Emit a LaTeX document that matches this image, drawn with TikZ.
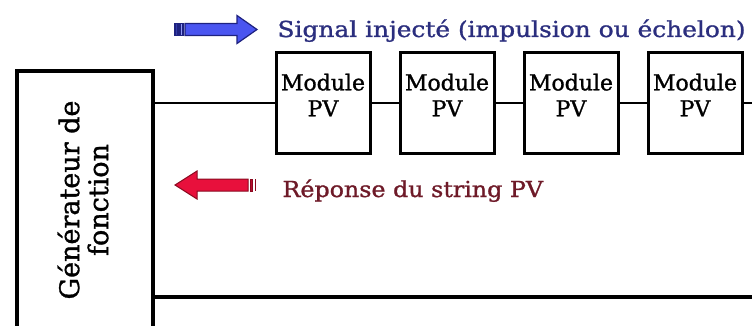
\documentclass[tikz,border=0pt]{standalone}
\usepackage{fontspec}
\setmainfont{DejaVu Serif}[FakeBold=1.2]
\newfontfamily\widefont{DejaVu Serif}[FakeStretch=1.08, FakeBold=1.2]
\newfontfamily\sigfont{DejaVu Serif}[FakeStretch=1.13, FakeBold=1.2]
\usetikzlibrary{positioning}
\definecolor{sigblue}{HTML}{4A55F0}
\definecolor{sigline}{HTML}{1E2280}
\definecolor{sigtext}{HTML}{2B2E7E}
\definecolor{repred}{HTML}{E8103C}
\definecolor{repline}{HTML}{8A0A20}
\definecolor{reptext}{HTML}{6E1A28}

\begin{document}
\begin{tikzpicture}[x=1pt, y=-1pt,
  modbox/.style={draw, line width=3pt, minimum width=94pt, minimum height=100pt,
    inner sep=0pt, align=center, font=\fontsize{22}{26}\selectfont, text depth=16pt},
  genbox/.style={draw, line width=3.5pt, minimum width=136pt, minimum height=258pt, inner sep=0pt},
  wire/.style={line width=1.4pt},
  node distance=27pt]

% Frame
\useasboundingbox (0,0) rectangle (752,326);
\clip (0,0) rectangle (752,326);

% Function generator
\node[genbox] (gen) at (85,200) {};
\node[rotate=90, align=center, font=\fontsize{27}{29}\selectfont] (gentxt) at (83,200)
  {G\'en\'erateur de\\fonction};

% Modules
\node[modbox] (mod1) at (323,103) {Module\\PV};
\foreach \i [count=\j from 2] in {1,2,3}
  \node[modbox, right=of mod\i] (mod\j) {Module\\PV};

% Wires
\coordinate (topend) at (752,103);
\coordinate (botend) at (752,297);
\draw[wire] (gen.east |- mod1.west) -- (mod1.west);
\foreach \i [count=\j from 2] in {1,2,3}
  \draw[wire] (mod\i.east) -- (mod\j.west);
\draw[wire] (mod4.east) -- (topend);
\draw[line width=4.5pt] (gen.east |- botend) -- (botend);

% Injected signal arrow
\filldraw[fill=sigblue, draw=sigline, line width=1.2pt]
  (185,23.5) -- (237,23.5) -- (237,15.5) -- (257,29.5) -- (237,43.5) -- (237,35.5) -- (185,35.5) -- cycle;
\filldraw[fill=sigblue!70!black, draw=sigline, line width=1.2pt] (175,23.5) rectangle (178,35.5);
\filldraw[fill=sigblue!60!white, draw=sigline, line width=1.2pt] (180,23.5) rectangle (183,35.5);
\node[anchor=base west, text=sigtext, font=\sigfont\fontsize{22}{26}\selectfont] (sigtxt) at (274,37)
  {Signal inject\'e (impulsion ou \'echelon)};

% Response arrow
\filldraw[fill=repred, draw=repline, line width=1pt]
  (248,179) -- (197,179) -- (197,171) -- (175,185) -- (197,199) -- (197,191) -- (248,191) -- cycle;
\filldraw[fill=repred!80!black, draw=repline, line width=0.8pt] (250,179) rectangle (252,191);
\fill[repline] (254.5,179) rectangle (256,191);
\node[anchor=base west, text=reptext, font=\widefont\fontsize{22}{26}\selectfont] (reptxt) at (279,197)
  {R\'eponse du string PV};

\end{tikzpicture}
\end{document}
